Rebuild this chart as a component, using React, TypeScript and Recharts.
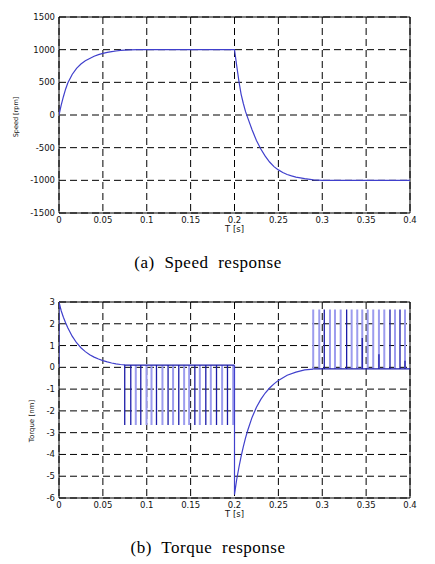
import React from "react";
import { LineChart, Line, XAxis, YAxis, CartesianGrid, ReferenceArea } from "recharts";

// axis ticks
const timeTicks = [0, 0.05, 0.1, 0.15, 0.2, 0.25, 0.3, 0.35, 0.4];
const speedTicks = [-1500, -1000, -500, 0, 500, 1000, 1500];
const torqueTicks = [-6, -5, -4, -3, -2, -1, 0, 1, 2, 3];

// (a) speed response
const speedTime = [0, 0.0025, 0.005, 0.0075, 0.01, 0.015, 0.02, 0.025, 0.03, 0.035, 0.04, 0.045, 0.05, 0.055, 0.06, 0.065, 0.07, 0.08, 0.09, 0.2, 0.2025, 0.205, 0.2075, 0.21, 0.2125, 0.215, 0.22, 0.225, 0.23, 0.235, 0.24, 0.245, 0.25, 0.255, 0.26, 0.265, 0.27, 0.28, 0.29, 0.3, 0.4];
const speedRpm = [0, 150, 280, 395, 490, 620, 715, 780, 830, 865, 900, 925, 943, 958, 970, 980, 988, 996, 1000, 1000, 755, 520, 320, 180, 55, -40, -225, -390, -520, -630, -720, -790, -840, -880, -910, -932, -950, -975, -992, -1000, -1000];

// (b) torque response: smooth parts
const torqueStartTime = [0, 0, 0.0025, 0.005, 0.0075, 0.01, 0.015, 0.02, 0.025, 0.03, 0.035, 0.04, 0.045, 0.05, 0.055, 0.06, 0.065, 0.07, 0.0749];
const torqueStartNm = [0, 3, 2.6, 2.3, 2.05, 1.82, 1.43, 1.13, 0.9, 0.72, 0.58, 0.47, 0.38, 0.31, 0.25, 0.2, 0.16, 0.13, 0.11];
const torqueBrakeTime = [0.2, 0.2, 0.2025, 0.205, 0.2075, 0.21, 0.2125, 0.215, 0.22, 0.225, 0.23, 0.235, 0.24, 0.245, 0.25, 0.26, 0.27, 0.28, 0.29];
const torqueBrakeNm = [0.1, -5.85, -5.15, -4.6, -4.1, -3.65, -3.25, -2.9, -2.3, -1.83, -1.47, -1.18, -0.95, -0.76, -0.6, -0.36, -0.22, -0.12, -0.08];

// switching bands: [base, peak] and [start, end]
const negLevels = [0.1, -2.65];
const negSpan = [0.0749, 0.2];
const negSpikeDark = [0.0749, 0.0818, 0.0932, 0.1111, 0.1243, 0.1365, 0.1548, 0.1673, 0.1795, 0.192];
const negSpikeLight = [0.0875, 0.0997, 0.1054, 0.1179, 0.13, 0.1426, 0.1483, 0.1605, 0.173, 0.1859, 0.1985];
const posLevels = [-0.07, 2.65];
const posSpan = [0.29, 0.4];
const posSpikeDark = [0.3023, 0.3278, 0.3772, 0.3886];
const posSpikeLight = [0.2897, 0.2966, 0.3088, 0.3145, 0.321, 0.3335, 0.3399, 0.3456, 0.3518, 0.3581, 0.3646, 0.3707, 0.3829, 0.3943];
const posPartialTime = [0.3456, 0.3646, 0.3943];
const posPartialNm = [1.35, 0.6, 0.3];

type Pt = { x: number; y: number | null };
const zip = (xs: number[], ys: number[]): Pt[] => xs.map((x, i) => ({ x, y: ys[i] }));
const band = (times: number[], lv: number[], span: number[]): Pt[] => [
  { x: span[0], y: lv[0] },
  ...times.flatMap((t) => [{ x: t, y: lv[0] }, { x: t, y: lv[1] }, { x: t, y: lv[0] }]),
  { x: span[1], y: lv[0] },
];
const strokes = (times: number[], base: number, peaks: number[]): Pt[] =>
  times.flatMap((t, i) => [{ x: t, y: base }, { x: t, y: peaks[i] }, { x: t, y: null }]);

const speedData = zip(speedTime, speedRpm);
const torqueCurve: Pt[] = [...zip(torqueStartTime, torqueStartNm), { x: 0.1, y: null }, ...zip(torqueBrakeTime, torqueBrakeNm)];
const negDark = band(negSpikeDark, negLevels, negSpan);
const negLight = strokes(negSpikeLight, negLevels[0], negSpikeLight.map(() => negLevels[1]));
const posDark = band(posSpikeDark, posLevels, posSpan);
const posLight = strokes(posSpikeLight, posLevels[0], posSpikeLight.map(() => posLevels[1]));
const posPartial = strokes(posPartialTime, posLevels[0], posPartialNm);

const BLUE = "#4040cc";
const DARK = "#1c1ca8";
const LIGHT = "#9c9cee";
const sans = "'DejaVu Sans', Verdana, sans-serif";
const tickStyle = { fontSize: 8.5, fill: "#111", fontFamily: sans };

function Panel({ yTicks, children }: { yTicks: number[]; children: React.ReactNode }) {
  const lo = yTicks[0];
  const hi = yTicks[yTicks.length - 1];
  return (
    <LineChart width={435} height={240} margin={{ top: 17, right: 25, bottom: 7, left: 0 }}>
      <CartesianGrid stroke="#000" strokeDasharray="7 4" />
      <XAxis
        dataKey="x"
        type="number"
        domain={[0, 0.4]}
        ticks={timeTicks}
        interval={0}
        allowDataOverflow
        axisLine={false}
        tickLine={false}
        tickSize={0}
        tickMargin={4}
        height={20}
        tick={tickStyle}
        label={{ value: "T [s]", position: "insideBottom", offset: 1, fontSize: 8.5, fill: "#111", fontFamily: sans }}
      />
      <YAxis
        type="number"
        domain={[lo, hi]}
        ticks={yTicks}
        interval={0}
        allowDataOverflow
        width={59}
        axisLine={false}
        tickLine={false}
        tickSize={0}
        tickMargin={4}
        tick={tickStyle}
      />
      <ReferenceArea x1={0} x2={0.4} y1={lo} y2={hi} fill="none" fillOpacity={0} stroke="#000" strokeWidth={1} />
      {children}
    </LineChart>
  );
}

const lineProps = { dataKey: "y", dot: false, activeDot: false, isAnimationActive: false, type: "linear" as const };

export default function App() {
  return (
    <div style={{ position: "absolute", left: 0, top: 0, width: 435, height: 564, background: "#fff" }}>
      <div style={{ position: "absolute", left: 0, top: 0 }}>
        <Panel yTicks={speedTicks}>
          <Line {...lineProps} data={speedData} stroke={BLUE} strokeWidth={1.2} />
        </Panel>
      </div>
      <div
        style={{
          position: "absolute", left: 15.5, top: 117, transform: "translate(-50%, -50%) rotate(-90deg)",
          fontSize: 6.5, fontFamily: sans, whiteSpace: "nowrap", color: "#111",
        }}
      >
        Speed [rpm]
      </div>
      <div
        style={{
          position: "absolute", left: 0, width: 416, top: 253, textAlign: "center",
          fontSize: 17, fontFamily: "'Liberation Serif', 'Times New Roman', serif", wordSpacing: 5, letterSpacing: 0.5,
        }}
      >
        (a) Speed response
      </div>

      <div style={{ position: "absolute", left: 0, top: 285 }}>
        <Panel yTicks={torqueTicks}>
          <Line {...lineProps} data={negLight} stroke={LIGHT} strokeWidth={2} />
          <Line {...lineProps} data={posLight} stroke={LIGHT} strokeWidth={2} />
          <Line {...lineProps} data={negDark} stroke={DARK} strokeWidth={1.3} />
          <Line {...lineProps} data={posDark} stroke={DARK} strokeWidth={1.3} />
          <Line {...lineProps} data={posPartial} stroke={DARK} strokeWidth={1.3} />
          <Line {...lineProps} data={torqueCurve} stroke={BLUE} strokeWidth={1.2} />
        </Panel>
      </div>
      <div
        style={{
          position: "absolute", left: 32, top: 421, transform: "translate(-50%, -50%) rotate(-90deg)",
          fontSize: 7, fontFamily: sans, whiteSpace: "nowrap", color: "#111",
        }}
      >
        Torque [nm]
      </div>
      <div
        style={{
          position: "absolute", left: 0, width: 416, top: 538, textAlign: "center",
          fontSize: 17, fontFamily: "'Liberation Serif', 'Times New Roman', serif", wordSpacing: 5, letterSpacing: 0.5,
        }}
      >
        (b) Torque response
      </div>
    </div>
  );
}
